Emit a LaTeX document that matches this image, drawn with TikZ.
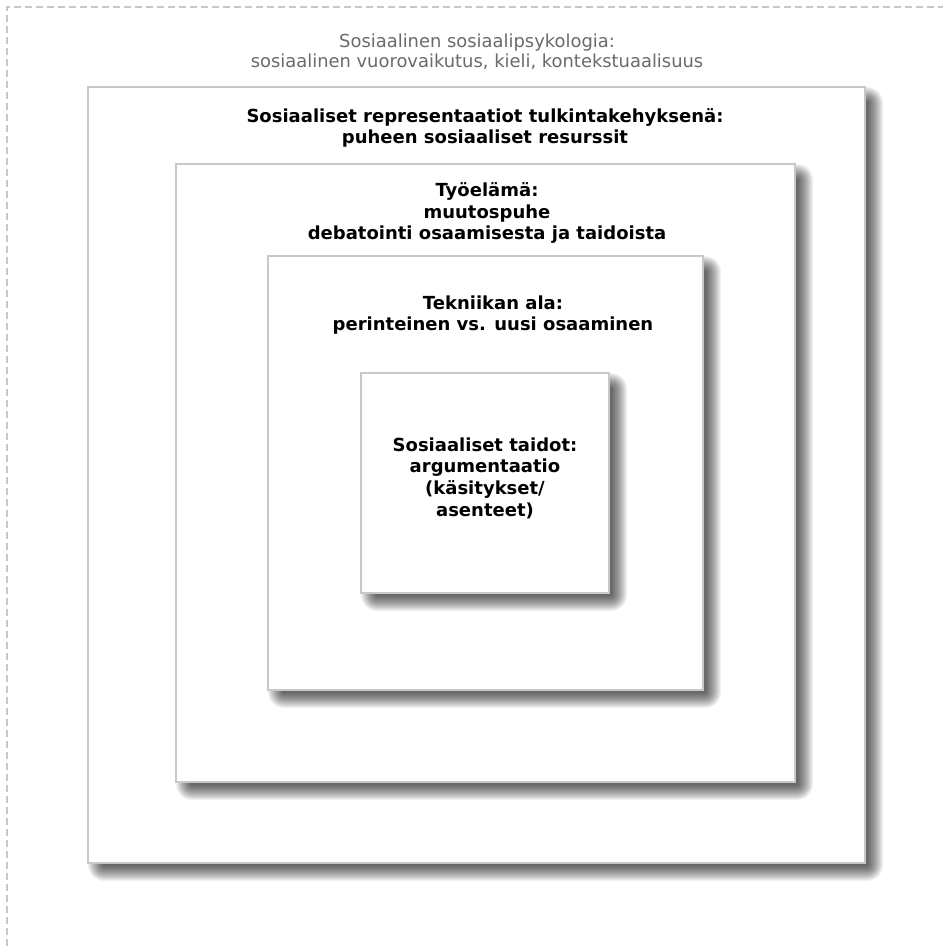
\documentclass[tikz,border=0pt]{standalone}
\usepackage{fontspec}
\setmainfont{DejaVu Sans}
\definecolor{frame}{HTML}{C8C8C8}
\definecolor{titlegrey}{HTML}{6A6A6A}
\tikzset{
  boxframe/.style={draw=frame, line width=1.6pt, fill=white, inner sep=0pt, outer sep=0pt},
  shadowlayer/.style={fill=black, opacity=0.05},
  outerdash/.style={draw=frame, line width=1.6pt, dash pattern=on 7pt off 4pt},
  greytext/.style={text=titlegrey, align=center, font=\fontsize{17.9}{20.5}\selectfont},
  boldtext/.style={text=black, align=center, font=\fontsize{18}{21.6}\selectfont\bfseries},
}
\newcommand\shadowedbox[5]{%
  \foreach \k [evaluate=\k as \r using int(\k+7)] in {-6,...,9}{%
    \fill[shadowlayer, rounded corners=\r pt] ({#1+9-\k},{#2+9-\k}) rectangle ({#3+9+\k},{#4+9+\k});
  }%
  \node[boxframe, anchor=north west, minimum width={(#3-#1)*1pt}, minimum height={(#4-#2)*1pt}] (#5) at (#1,#2) {};
}
\begin{document}
\begin{tikzpicture}[x=1pt,y=-1pt]
\useasboundingbox (0,0) rectangle (943,946);
\fill[white] (0,0) rectangle (943,946);
\draw[outerdash] (7,990) -- (7,7) -- (990,7);
\node[greytext] (title) at (477,51.5) {Sosiaalinen sosiaalipsykologia:\\sosiaalinen vuorovaikutus, kieli, kontekstuaalisuus};
\shadowedbox{88}{87}{865}{863}{b1}
\node[boldtext] (t1) at (485,128) {Sosiaaliset representaatiot tulkintakehyksenä:\\puheen sosiaaliset resurssit};
\shadowedbox{176}{164}{795}{782}{b2}
\node[boldtext] (t2) at (487,213) {Työelämä:\\muutospuhe\\debatointi osaamisesta ja taidoista};
\shadowedbox{268}{256}{703}{690}{b3}
\node[boldtext] (t3) at (493,315) {Tekniikan ala:\\perinteinen vs. uusi osaaminen};
\shadowedbox{361}{373}{609}{593}{b4}
\node[boldtext] (t4) at (485,478) {Sosiaaliset taidot:\\argumentaatio\\(käsitykset/\\asenteet)};
\end{tikzpicture}
\end{document}
